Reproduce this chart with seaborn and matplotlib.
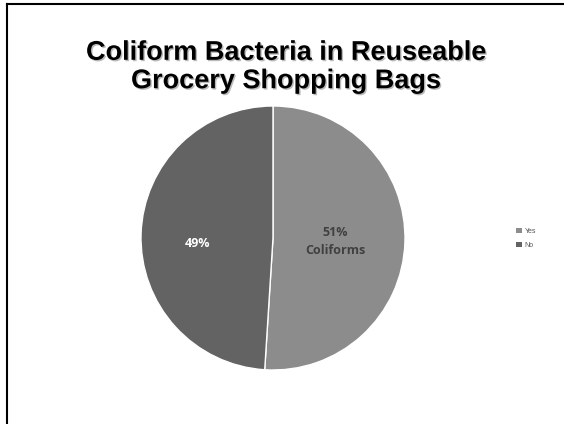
import matplotlib
matplotlib.use("Agg")
import matplotlib.pyplot as plt
import matplotlib.patheffects as pe
from matplotlib.lines import Line2D
from matplotlib.patches import Patch
import seaborn as sns

# Share of reusable grocery bags that tested positive for coliforms
categories = ["Yes", "No"]
shares = [51, 49]
slice_labels = ["51%\nColiforms", "49%"]
title_text = "Coliform Bacteria in Reuseable\nGrocery Shopping Bags"

sns.set_theme(style="white")
plt.rcParams["font.family"] = ["Liberation Sans", "DejaVu Sans"]

colors = ["#8c8c8c", "#636363"]
label_colors = ["#404040", "#ffffff"]

W, H = 564, 424
fig = plt.figure(figsize=(W / 100, H / 100), dpi=100)
fig.patch.set_facecolor("white")

# pie axes: centre (273, 238) px, radius 132 px
cx, cy, r = 273, 238, 132
ax = fig.add_axes([(cx - r) / W, (H - cy - r) / H, 2 * r / W, 2 * r / H])
wedges, _ = ax.pie(
    shares,
    colors=colors,
    startangle=90,
    counterclock=False,
    radius=1.0,
    wedgeprops=dict(edgecolor="white", linewidth=1.0),
)
ax.set_xlim(-1, 1)
ax.set_ylim(-1, 1)
ax.set_aspect("equal")
ax.axis("off")

# slice labels
ax.text(0.47, -0.03, slice_labels[0], ha="center", va="center",
        fontsize=9, fontweight="bold", color=label_colors[0],
        family=["Open Sans", "DejaVu Sans"], linespacing=1.5)
ax.text(-0.575, -0.04, slice_labels[1], ha="center", va="center",
        fontsize=9, fontweight="bold", color=label_colors[1],
        family=["Open Sans", "DejaVu Sans"])

# title with a soft drop shadow
fig.text(286 / W, 1 - 67 / H, title_text, ha="center", va="center",
         fontsize=19.5, fontweight="bold", color="black", linespacing=1.12,
         path_effects=[pe.withSimplePatchShadow(offset=(1.0, -1.0),
                                                shadow_rgbFace="#777777", alpha=0.5)])

# legend
handles = [Patch(facecolor=c, edgecolor="none") for c in colors]
fig.legend(handles, categories, loc="center left",
           bbox_to_anchor=(510 / W, 1 - 238.5 / H), frameon=False,
           fontsize=5, handlelength=0.8, handleheight=0.8,
           handletextpad=0.4, labelspacing=1.0, labelcolor="#555555")

# slide frame on the top and left
fig.add_artist(Line2D([6.5 / W, 6.5 / W], [0, 1 - 4 / H], transform=fig.transFigure,
                      color="black", linewidth=1.5, solid_capstyle="projecting"))
fig.add_artist(Line2D([6.5 / W, 1], [1 - 4 / H, 1 - 4 / H], transform=fig.transFigure,
                      color="black", linewidth=1.5, solid_capstyle="projecting"))

fig.savefig("out.png", dpi=100, facecolor="white")
